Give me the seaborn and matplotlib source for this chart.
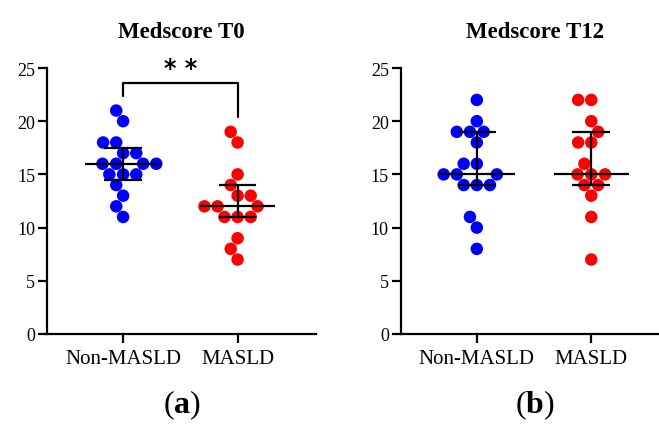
import numpy as np
import pandas as pd
import matplotlib
matplotlib.use('Agg')
import matplotlib.pyplot as plt
import seaborn as sns

# 데이터
groups = ['Non-MASLD', 'MASLD']
titles = ['Medscore T0', 'Medscore T12']
panel_labels = ['a', 'b']
y_ticks = [0, 5, 10, 15, 20, 25]

non_t0 = [21, 20, 18, 18, 17, 17, 16, 16, 16, 16, 15, 15, 15, 14, 13, 12, 11]
masld_t0 = [19, 18, 15, 14, 13, 13, 12, 12, 12, 11, 11, 11, 9, 8, 7]
non_t12 = [22, 20, 19, 19, 19, 18, 16, 16, 15, 15, 15, 14, 14, 14, 11, 10, 8]
masld_t12 = [22, 22, 20, 19, 18, 18, 16, 15, 15, 15, 14, 14, 13, 11, 7]

sig_label = '* *'

sns.set_style('ticks')
plt.rcParams['font.family'] = ['Liberation Serif', 'DejaVu Serif']
plt.rcParams['text.color'] = 'black'
plt.rcParams['xtick.color'] = 'black'
plt.rcParams['ytick.color'] = 'black'
plt.rcParams['mathtext.fontset'] = 'custom'
plt.rcParams['mathtext.rm'] = 'Liberation Serif'
plt.rcParams['mathtext.bf'] = 'Liberation Serif:bold'

palette = {'Non-MASLD': '#0000ff', 'MASLD': '#ff0000'}

fig = plt.figure(figsize=(6.59, 4.27), dpi=100)
W, H = 659, 427
ax_a = fig.add_axes([47 / W, (H - 335) / H, 269 / W, 266 / H])
ax_b = fig.add_axes([400.7 / W, (H - 335) / H, 269 / W, 266 / H])

datasets = [(non_t0, masld_t0), (non_t12, masld_t12)]

for ax, (d_non, d_masld), title, lab in zip([ax_a, ax_b], datasets, titles, panel_labels):
    df = pd.DataFrame({
        'group': ['Non-MASLD'] * len(d_non) + ['MASLD'] * len(d_masld),
        'score': d_non + d_masld,
    })
    sns.swarmplot(data=df, x='group', y='score', hue='group', order=groups,
                  palette=palette, size=9, legend=False, ax=ax, zorder=2)

    # 중앙값 + IQR
    for i, g in enumerate(groups):
        vals = df.loc[df['group'] == g, 'score'].values
        q1, med, q3 = np.percentile(vals, [25, 50, 75], method='weibull')
        ax.hlines(med, i - 0.33, i + 0.33, color='black', lw=1.6, zorder=3)
        ax.hlines([q1, q3], i - 0.165, i + 0.165, color='black', lw=1.6, zorder=3)
        ax.vlines(i, q1, q3, color='black', lw=1.6, zorder=3)

    ax.set_xlim(-0.665, 1.685)
    ax.set_ylim(0, 25)
    ax.set_yticks(y_ticks)
    ax.set_xlabel('')
    ax.set_ylabel('')
    ax.set_title(title, fontsize=16.5, fontweight='bold', pad=22)
    sns.despine(ax=ax)
    for sp in ['left', 'bottom']:
        ax.spines[sp].set_linewidth(1.6)
        ax.spines[sp].set_color('black')
    ax.tick_params(axis='y', length=6.5, width=1.6, labelsize=13, pad=2)
    ax.tick_params(axis='x', length=6.5, width=1.6, labelsize=15, pad=4)

    cx = ax.get_position().x0 + ax.get_position().width / 2
    fig.text(cx, 0.032, r'($\mathbf{' + lab + '}$)', ha='center', va='baseline', fontsize=23)

# 유의성 표시
ax_a.plot([0, 0, 1, 1], [22.4, 23.6, 23.6, 20.4], color='black', lw=1.6, clip_on=False)
ax_a.text(0.5, 24.3, sig_label, ha='center', va='baseline', fontsize=17,
          fontweight='bold', family=['DejaVu Sans'])

fig.savefig('out.png', dpi=100)
